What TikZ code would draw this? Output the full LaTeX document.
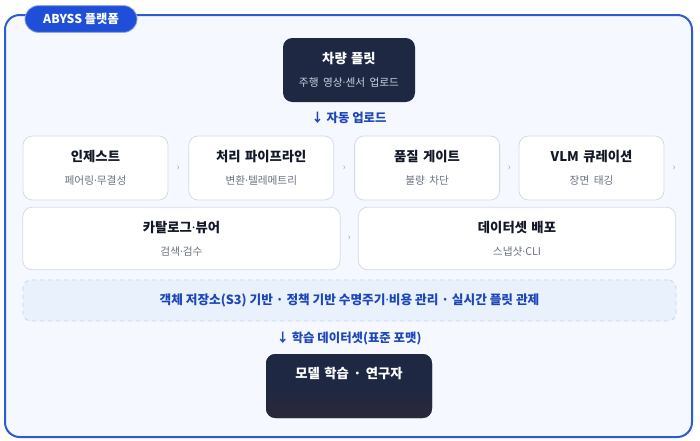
\documentclass[tikz,border=0pt]{standalone}
\usepackage{fontspec}
\setmainfont{Noto Sans CJK KR}
\newfontfamily\dotfont{Noto Sans}
\usetikzlibrary{positioning,calc}

\definecolor{frameblue}{HTML}{2F5BD0}
\definecolor{tagblue}{HTML}{1F4FD8}
\definecolor{panelbg}{HTML}{F5F8FE}
\definecolor{navy}{HTML}{1E2842}
\definecolor{plum}{HTML}{2B2838}
\definecolor{stageline}{HTML}{D3DBE8}
\definecolor{subgray}{HTML}{6B7280}
\definecolor{lightsub}{HTML}{CBD3DF}
\definecolor{bandbg}{HTML}{E9F1FD}
\definecolor{bandline}{HTML}{C3D2EC}
\definecolor{chevgray}{HTML}{9AA3B0}
\definecolor{labelblue}{HTML}{1D47B8}
\definecolor{titleink}{HTML}{111827}

\newcommand{\md}{{\dotfont·}}
\newcommand{\stagetext}[2]{{\bfseries\fontsize{10}{11}\selectfont\color{titleink}#1}\\[5pt]{\fontsize{8}{9}\selectfont\color{subgray}#2}}

\begin{document}
\begin{tikzpicture}[x=0.75pt, y=-0.75pt, node distance=15pt]
    \tikzstyle{stage} = [rectangle, draw=stageline, line width=0.6pt, fill=white, rounded corners=7pt, minimum width=108.75pt, minimum height=48pt, text width=100pt, align=center, inner sep=0pt]
    \tikzstyle{widestage} = [stage, minimum width=238pt, minimum height=47pt, text width=220pt]
    \tikzstyle{darkbox} = [rectangle, fill=navy, rounded corners=7pt, minimum width=99pt, minimum height=48pt, text width=95pt, align=center, inner sep=0pt]
    \tikzstyle{chev} = [text=chevgray, font=\fontsize{7}{8}\selectfont, inner sep=0pt]
    \tikzstyle{flowlabel} = [text=labelblue, font=\bfseries\fontsize{9.3}{10}\selectfont]

    \useasboundingbox (0,0) rectangle (700,440);
    % platform frame and its tag
    \draw [frameblue, line width=1.5pt, fill=panelbg, rounded corners=11pt] (5,15) rectangle (692,437);
    \node (tag) [fill=tagblue, draw=frameblue!60, line width=0.6pt, rounded corners=10pt, minimum width=84pt, minimum height=20pt, text=white, font=\bfseries\fontsize{9.2}{10}\selectfont] at (81,19) {ABYSS 플랫폼};

    % fleet
    \node (fleet) [darkbox] at (349,70) {{\bfseries\fontsize{10}{11}\selectfont\color{white}차량 플릿}\\[5pt]{\fontsize{8}{9}\selectfont\color{lightsub}주행 영상\md 센서 업로드}};
    \node (upload) [flowlabel] at (349,118) {↓ 자동 업로드};

    % pipeline row
    \node (ingest) [stage] at (95.5,168) {\stagetext{인제스트}{페어링\md 무결성}};
    \node (process) [stage, right=15pt of ingest] {\stagetext{처리 파이프라인}{변환\md 텔레메트리}};
    \node (gate) [stage, right=15pt of process] {\stagetext{품질 게이트}{불량 차단}};
    \node (curate) [stage, right=14pt of gate] {\stagetext{VLM 큐레이션}{장면 태깅}};
    \node (catalog) [widestage] at (181.5,238.5) {\stagetext{카탈로그\md 뷰어}{검색\md 검수}};
    \node (deploy) [widestage] at (517,238.5) {\stagetext{데이터셋 배포}{스냅샷\md CLI}};

    \node (c1) [chev] at ($(ingest.east)!0.5!(process.west)$) {›};
    \node (c2) [chev] at ($(process.east)!0.5!(gate.west)$) {›};
    \node (c3) [chev] at ($(gate.east)!0.5!(curate.west)$) {›};
    \node (c4) [chev, right=6pt of curate] {›};
    \node (c5) [chev] at ($(catalog.east)!0.5!(deploy.west)$) {›};

    % storage band
    \node (band) [rectangle, draw=bandline, dashed, line width=0.6pt, fill=bandbg, rounded corners=6pt, minimum width=489.75pt, minimum height=30.75pt, text=labelblue, font=\bfseries\fontsize{9.5}{10}\selectfont] at (349.5,300.5) {객체 저장소(S3) 기반 · 정책 기반 수명주기\md 비용 관리 · 실시간 플릿 관제};

    \node (train) [flowlabel] at (349,338) {↓ 학습 데이터셋(표준 포맷)};

    % model training
    \node (model) [darkbox, top color=navy, bottom color=plum, middle color=navy, minimum width=124.5pt, text width=120pt, text depth=20pt, font=\bfseries\fontsize{10}{11}\selectfont, text=white] at (349,386) {모델 학습 · 연구자};

\end{tikzpicture}
\end{document}
